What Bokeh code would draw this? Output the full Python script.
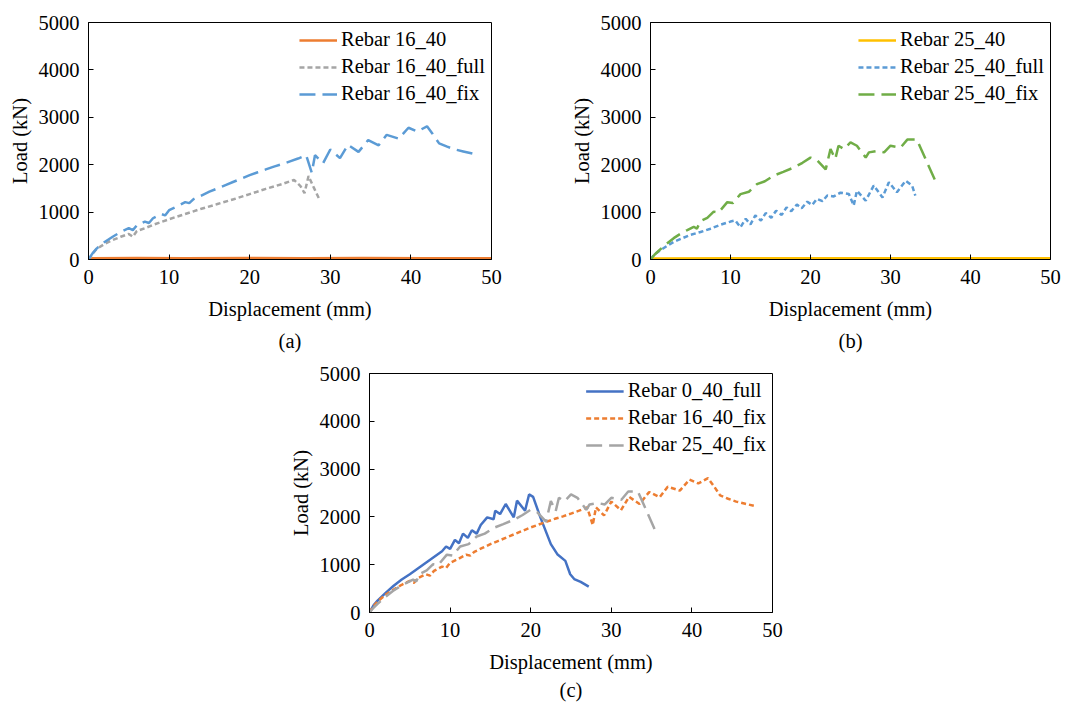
from bokeh.plotting import figure
from bokeh.models import Range1d, FixedTicker, Legend, LegendItem, Title, Spacer
from bokeh.layouts import column, row
from bokeh.embed import file_html
from bokeh.resources import INLINE

FONT = "Liberation Serif"
FS = "20.5px"

# ---------------- data ----------------
# Panel (a)
r16_40_x = [0, 0.5, 6, 12, 20, 27, 34, 42, 50]
r16_40_y = [0, 25, 30, 28, 30, 28, 30, 28, 25]

r16_40_full_x = [0, 0.5, 1, 2, 3, 4, 5, 5.5, 6, 7, 8, 9, 10, 12, 14, 16, 18, 20, 22, 24,
                 25.5, 26.3, 26.8, 27.3, 28.0, 28.7]
r16_40_full_y = [0, 120, 220, 330, 410, 480, 540, 480, 600, 660, 730, 790, 850, 960, 1070, 1170,
                 1270, 1380, 1490, 1590, 1680, 1550, 1400, 1760, 1500, 1250]

r16_40_fix_x = [0, 0.5, 1, 2, 3, 4, 5, 5.5, 6, 7, 7.5, 8, 9, 9.5, 10, 11, 12, 12.5, 13, 14,
                15, 16, 17, 18, 19, 20, 21, 22, 23, 24, 25, 26, 27, 27.7, 28.1, 29.1, 30,
                31.2, 32.2, 33.5, 34.7, 36, 37, 38.5, 39.7, 40.8, 42, 42.7, 43.5, 44.5,
                45.5, 46.5, 48]
r16_40_fix_y = [0, 130, 230, 370, 480, 580, 660, 620, 720, 800, 770, 870, 960, 930, 1040, 1120,
                1210, 1190, 1270, 1350, 1430, 1500, 1570, 1640, 1710, 1780, 1840, 1900, 1960,
                2010, 2070, 2130, 2200, 1830, 2200, 2030, 2320, 2140, 2420, 2270, 2520, 2410,
                2630, 2550, 2780, 2700, 2810, 2650, 2450, 2380, 2320, 2280, 2220]

# Panel (b)
r25_40_x = [0, 0.5, 10, 20, 30, 40, 50]
r25_40_y = [0, 20, 25, 25, 25, 25, 25]

r25_40_full_x = [0, 0.4, 1, 2, 2.9, 4, 5, 6.25, 7.5, 8.7, 10, 10.6, 11.25, 11.9, 12.5, 13.1,
                 13.8, 14.4, 15.1, 15.7, 16.4, 17, 17.6, 18.3, 18.9, 19.6, 20.2, 20.8, 21.5,
                 22.1, 22.9, 23.75, 24.8, 25.4, 25.8, 26.9, 27.9, 29, 29.8, 30.8, 31.9, 32.7,
                 33.1]
r25_40_full_y = [0, 90, 170, 280, 370, 450, 520, 580, 650, 730, 800, 824, 680, 860, 740, 930,
                 820, 980, 880, 1030, 940, 1100, 1020, 1160, 1080, 1220, 1150, 1280, 1230, 1350,
                 1330, 1410, 1380, 1140, 1450, 1240, 1560, 1310, 1630, 1420, 1660, 1560, 1350]

r25_40_fix_x = [0, 0.5, 1, 1.7, 2.9, 4, 4.6, 5.4, 5.8, 6.25, 7.1, 7.9, 8.5, 9.6, 10.3, 11.25,
                12.3, 13.3, 14.3, 15.4, 16.6, 17.9, 19, 20, 20.8, 21.9, 22.5, 23.1, 23.5, 24.2,
                25, 25.8, 26.9, 27.3, 28.3, 29.2, 30, 31.25, 32.1, 33.3, 34.2, 35.6]
r25_40_fix_y = [0, 100, 180, 290, 450, 570, 620, 690, 650, 810, 880, 1010, 990, 1210, 1190,
                1380, 1430, 1590, 1650, 1770, 1850, 1940, 2040, 2150, 2100, 1900, 2330, 2120,
                2400, 2330, 2470, 2400, 2150, 2260, 2290, 2260, 2400, 2360, 2530, 2530, 2190,
                1660]

# Panel (c)
r0_40_full_x = [0, 0.5, 1, 2, 3, 4, 5, 6, 7, 8, 9, 9.5, 10, 10.6, 11.1, 11.6, 12.2, 12.7,
                13.3, 13.8, 14.6, 15.4, 15.6, 16.2, 16.9, 17.9, 18.3, 19.3, 19.8, 20.3, 21.2,
                22.5, 23.3, 24.3, 24.9, 25.4, 26.2, 27.2]
r0_40_full_y = [0, 150, 250, 410, 560, 690, 800, 920, 1040, 1160, 1280, 1380, 1330, 1520,
                1450, 1650, 1560, 1720, 1650, 1830, 1990, 1950, 2130, 2060, 2270, 1990, 2340,
                2130, 2470, 2420, 1990, 1430, 1220, 1080, 800, 700, 640, 540]

x_ticks = [0, 10, 20, 30, 40, 50]
y_ticks = [0, 1000, 2000, 3000, 4000, 5000]

C_ORANGE = "#ED7D31"
C_GRAY = "#A5A5A5"
C_BLUE = "#5B9BD5"
C_GOLD = "#FFC000"
C_GREEN = "#70AD47"
C_DBLUE = "#4472C4"

SOLID = "solid"
SHORT = "5 3"
LONG = "16 7"


def panel(caption, series, width, height, bl, br, bt, bb, cap_standoff):
    p = figure(width=width, height=height, x_range=Range1d(0, 50), y_range=Range1d(0, 5000),
               output_backend="svg", toolbar_location=None,
               min_border_left=bl, min_border_right=br, min_border_top=bt, min_border_bottom=bb,
               background_fill_color="white", border_fill_color="white")
    p.outline_line_color = "black"
    p.outline_line_width = 1
    p.xgrid.visible = False
    p.ygrid.visible = False
    p.xaxis.ticker = FixedTicker(ticks=x_ticks)
    p.yaxis.ticker = FixedTicker(ticks=y_ticks)
    p.xaxis.axis_label = "Displacement (mm)"
    p.yaxis.axis_label = "Load (kN)"
    for ax in (p.xaxis[0], p.yaxis[0]):
        ax.axis_line_color = "black"
        ax.major_tick_line_color = "black"
        ax.major_tick_in = 5
        ax.major_tick_out = 0
        ax.minor_tick_line_color = None
        ax.major_label_text_font = FONT
        ax.major_label_text_font_size = FS
        ax.major_label_text_color = "black"
        ax.axis_label_text_font = FONT
        ax.axis_label_text_font_size = FS
        ax.axis_label_text_font_style = "normal"
        ax.axis_label_text_color = "black"
    p.xaxis.major_label_standoff = 10
    p.xaxis.axis_label_standoff = 11
    p.yaxis.major_label_standoff = 9
    p.yaxis.axis_label_standoff = 5
    items = []
    for label, xs, ys, color, dash in series:
        r = p.line(xs, ys, line_color=color, line_width=2.5, line_dash=dash)
        items.append(LegendItem(label=label, renderers=[r]))
    leg = Legend(items=items, location="top_right", background_fill_alpha=0,
                 border_line_color=None, label_text_font=FONT, label_text_font_size=FS,
                 label_text_color="black", glyph_width=38, glyph_height=20, label_height=20,
                 spacing=4, padding=2, margin=6, label_standoff=4)
    p.add_layout(leg)
    p.add_layout(Title(text=caption, align="center", text_font=FONT, text_font_size=FS,
                       text_font_style="normal", text_color="black",
                       standoff=cap_standoff), "below")
    return p


pa = panel("(a)", [
    ("Rebar 16_40", r16_40_x, r16_40_y, C_ORANGE, SOLID),
    ("Rebar 16_40_full", r16_40_full_x, r16_40_full_y, C_GRAY, SHORT),
    ("Rebar 16_40_fix", r16_40_fix_x, r16_40_fix_y, C_BLUE, LONG),
], 540, 356, 88, 49, 22, 95, 10)

pb = panel("(b)", [
    ("Rebar 25_40", r25_40_x, r25_40_y, C_GOLD, SOLID),
    ("Rebar 25_40_full", r25_40_full_x, r25_40_full_y, C_BLUE, SHORT),
    ("Rebar 25_40_fix", r25_40_fix_x, r25_40_fix_y, C_GREEN, LONG),
], 543, 356, 110, 33, 22, 95, 10)

pc = panel("(c)", [
    ("Rebar 0_40_full", r0_40_full_x, r0_40_full_y, C_DBLUE, SOLID),
    ("Rebar 16_40_fix", r16_40_fix_x, r16_40_fix_y, C_ORANGE, SHORT),
    ("Rebar 25_40_fix", r25_40_fix_x, r25_40_fix_y, C_GRAY, LONG),
], 540, 346, 89, 48, 17, 90, 3)

layout = column(row(pa, pb), row(Spacer(width=280, height=346), pc))

open("out.html", "w").write(file_html(layout, INLINE))
